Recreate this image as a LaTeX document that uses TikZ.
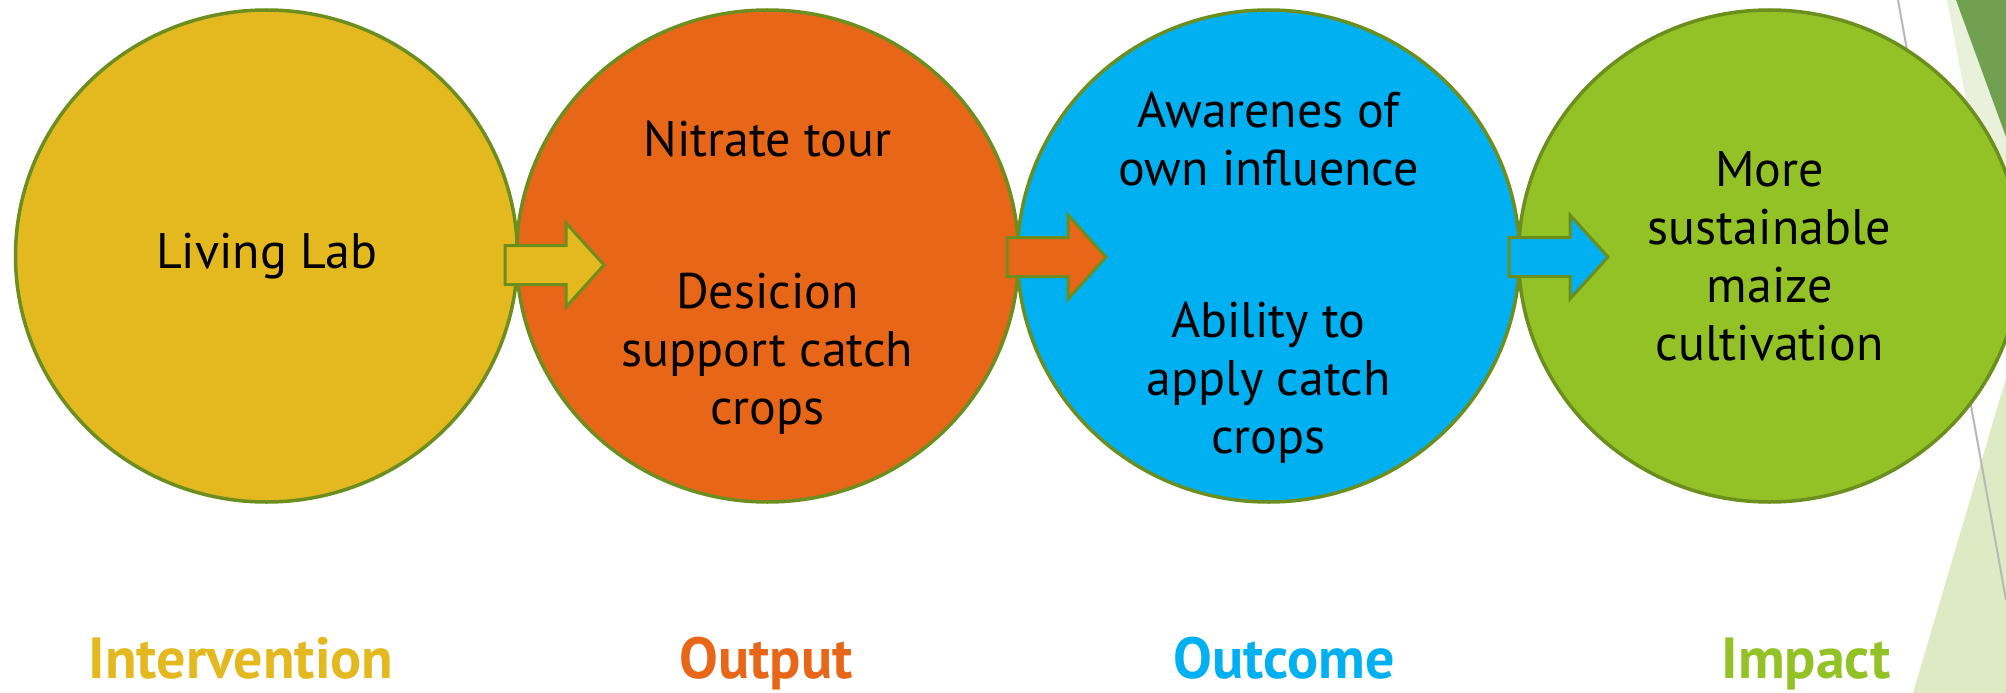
\documentclass[tikz,border=0pt]{standalone}
\usepackage{fontspec}
\setmainfont{PT Sans}
\usetikzlibrary{shapes.geometric}
\definecolor{cyel}{HTML}{E4B91F}
\definecolor{cora}{HTML}{E76617}
\definecolor{cblu}{HTML}{00B0F0}
\definecolor{cgrn}{HTML}{92C226}
\definecolor{cedge}{HTML}{6B8E1E}
\definecolor{dkgrn}{HTML}{70A050}
\definecolor{ltband}{HTML}{E9F1DA}
\definecolor{lttri}{HTML}{DDEAC4}
\definecolor{gline}{HTML}{B8B8B8}
\tikzset{
  bubble/.style={ellipse, draw=cedge, line width=3.5pt, minimum width=502pt, minimum height=492pt, inner sep=0pt},
  bodytext/.style={align=center, font=\fontsize{50}{58}\selectfont, text=black, inner sep=0pt},
  stagelabel/.style={anchor=base, font=\bfseries\fontsize{58}{64}\selectfont, inner sep=0pt},
  blockarrow/.style={draw=cedge, line width=3pt, line join=miter}
}
\newcommand\myarrow[3]{% x0, yc, colour
  \draw[blockarrow, fill=#3] (#1,#2-19.5) -- ++(61,0) -- ++(0,-22.5) -- ++(38,42) -- ++(-38,42) -- ++(0,-22.5) -- ++(-61,0) -- cycle;}
\begin{document}
\begin{tikzpicture}[x=1pt,y=-1pt]
\useasboundingbox (0,0) rectangle (2006,693);
\clip (0,0) rectangle (2006,693);
\fill[white] (0,0) rectangle (2006,693);
% decorations on the right
\fill[ltband] (1947,0) -- (2006,0) -- (2006,310) -- cycle;
\fill[dkgrn] (1956,0) -- (2006,0) -- (2006,137) -- cycle;
\fill[lttri] (2006,378) -- (1913,693) -- (2006,693) -- cycle;
\draw[gline, line width=2pt] (1898,0) -- (2006,600);
% circles
\node[bubble, fill=cyel] (c1) at (266.5,256) {};
\node[bubble, fill=cora] (c2) at (767.5,256) {};
\node[bubble, fill=cblu] (c3) at (1268.5,256) {};
\node[bubble, fill=cgrn] (c4) at (1769.5,256) {};
% block arrows
\myarrow{505}{265}{cyel}
\myarrow{1007}{257}{cora}
\myarrow{1509}{257}{cblu}
% texts
\node[bodytext] (t1) at (c1.center) {Living Lab};
\node[bodytext] (t2) at ([yshift=-22pt]c2.center) {Nitrate tour\\[18pt]\mbox{}\\[18pt]Desicion\\support catch\\crops};
\node[bodytext] (t3) at ([yshift=-22pt]c3.center) {Awarenes of\\own influence\\[18pt]\mbox{}\\[18pt]Ability to\\apply catch\\crops};
\node[bodytext] (t4) at (c4.center) {More\\sustainable\\maize\\cultivation};
% stage labels
\node[stagelabel, text=cyel] (l1) at (241,678) {Intervention};
\node[stagelabel, text=cora] (l2) at (766,678) {Output};
\node[stagelabel, text=cblu] (l3) at (1284,678) {Outcome};
\node[stagelabel, text=cgrn] (l4) at (1806,678) {Impact};
\end{tikzpicture}
\end{document}
